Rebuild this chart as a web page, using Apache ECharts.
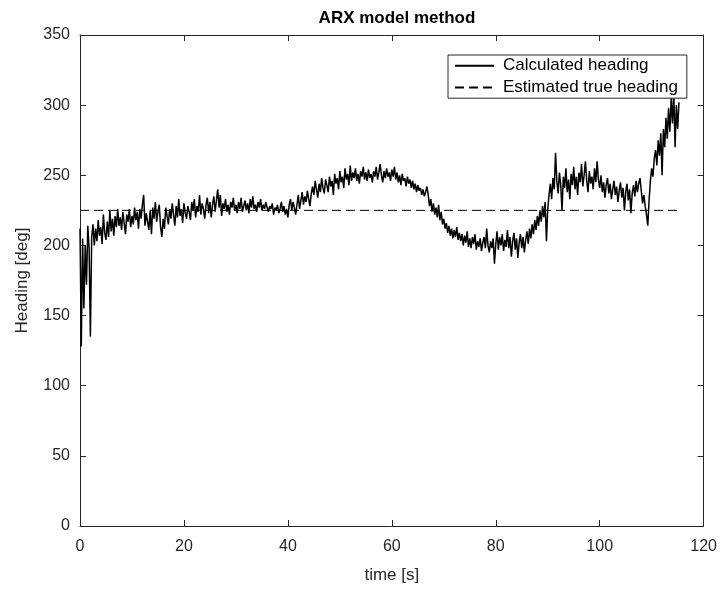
<!DOCTYPE html>
<html>
<head>
<meta charset="utf-8">
<script src="https://cdn.jsdelivr.net/npm/echarts@6/dist/echarts.min.js"></script>
<style>
  html, body { margin: 0; padding: 0; background: #fff; }
  #chart { width: 720px; height: 589px; }
</style>
</head>
<body>
<div id="chart"></div>
<script>
// sampling of the calculated heading (seconds between samples)
const sampleStep = 0.25;

// calculated heading [deg], 4 samples per second
const calculatedHeading = [
    212, 128, 205, 155, 200, 172, 214, 198, 135, 206, 215, 200, 212, 203, 218, 207, 213, 201, 222, 209,
    204, 217, 206, 225, 210, 219, 207, 221, 213, 226, 214, 220, 211, 224, 216, 208, 222, 217, 226, 213,
    221, 215, 227, 218, 224, 212, 226, 219, 229, 236, 214, 223, 217, 211, 225, 208, 227, 219, 231, 217,
    224, 229, 213, 206, 219, 212, 227, 221, 215, 226, 219, 230, 222, 214, 228, 220, 233, 221, 226, 216,
    230, 223, 219, 228, 224, 218, 231, 225, 233, 220, 228, 224, 236, 222, 230, 226, 219, 229, 234, 223,
    231, 220, 229, 235, 224, 232, 240, 227, 236, 221, 230, 226, 233, 224, 229, 222, 231, 227, 234, 225,
    229, 223, 231, 226, 234, 224, 228, 232, 225, 230, 223, 233, 227, 235, 226, 229, 224, 231, 227, 233,
    225, 229, 226, 231, 227, 224, 228, 226, 230, 222, 227, 225, 229, 223, 226, 231, 224, 228, 222, 226,
    220, 229, 233, 225, 231, 227, 222, 229, 236, 226, 232, 238, 229, 235, 231, 239, 233, 228, 237, 242,
    236, 246, 240, 234, 244, 238, 248, 241, 237, 247, 243, 238, 249, 242, 246, 236, 251, 244, 248, 240,
    253, 245, 249, 241, 255, 247, 251, 243, 257, 246, 252, 248, 255, 246, 251, 244, 253, 249, 256, 247,
    252, 246, 254, 248, 251, 245, 253, 249, 256, 247, 252, 258, 250, 245, 253, 248, 255, 249, 252, 246,
    254, 249, 256, 247, 252, 245, 250, 243, 251, 246, 248, 242, 249, 244, 247, 241, 246, 240, 244, 238,
    243, 239, 241, 236, 240, 235, 238, 242, 236, 228, 233, 224, 230, 222, 227, 220, 229, 218, 224, 215,
    219, 212, 216, 209, 214, 207, 212, 205, 211, 206, 213, 204, 209, 203, 208, 200, 207, 202, 210, 199,
    205, 198, 206, 201, 208, 197, 203, 199, 205, 196, 202, 206, 198, 212, 200, 195, 203, 198, 205, 187,
    201, 210, 197, 206, 200, 208, 196, 204, 199, 211, 198, 206, 192, 203, 209, 197, 205, 191, 202, 208,
    198, 206, 195, 204, 210, 201, 212, 205, 215, 208, 218, 211, 221, 214, 225, 217, 228, 220, 231, 203,
    226, 236, 244, 233, 248, 240, 266, 246, 237, 252, 243, 225, 249, 241, 255, 238, 247, 233, 251, 243,
    256, 240, 249, 236, 252, 245, 258, 242, 250, 260, 246, 238, 253, 244, 249, 240, 255, 245, 260, 247,
    241, 250, 238, 245, 234, 243, 248, 237, 244, 233, 240, 246, 236, 242, 231, 239, 245, 234, 241, 225,
    238, 244, 232, 240, 223, 237, 243, 235, 246, 238, 244, 248, 239, 230, 236, 228, 222, 214, 232, 246,
    255, 249, 262, 268, 257, 275, 264, 280, 250, 283, 270, 291, 276, 298, 281, 305, 287, 310, 270, 300,
    283, 302
];

// estimated true heading [deg], constant over the run
const trueHeading = 225;
const trueHeadingSpan = [0, 115.3];

const xTicks = { min: 0, max: 120, interval: 20 };
const yTicks = { min: 0, max: 350, interval: 50 };

const chartTitle = 'ARX model method';
const xName = 'time [s]';
const yName = 'Heading [deg]';
const seriesNames = ['Calculated heading', 'Estimated true heading'];

window.onload = init;

function init() {
    const chart = echarts.init(document.getElementById('chart'), null, { renderer: 'canvas' });

    const calcData = calculatedHeading.map((v, i) => [i * sampleStep, v]);
    const trueData = trueHeadingSpan.map(t => [t, trueHeading]);

    const axisCol = '#262626';
    const font = 'Liberation Sans';

    const baseX = {
        type: 'value',
        min: xTicks.min, max: xTicks.max, interval: xTicks.interval,
        axisLine: { show: true, onZero: false, lineStyle: { color: axisCol, width: 1 } },
        axisTick: { show: true, inside: true, length: 6, lineStyle: { color: axisCol } },
        splitLine: { show: false }
    };
    const baseY = {
        type: 'value',
        min: yTicks.min, max: yTicks.max, interval: yTicks.interval,
        axisLine: { show: true, onZero: false, lineStyle: { color: axisCol, width: 1 } },
        axisTick: { show: true, inside: true, length: 6, lineStyle: { color: axisCol } },
        splitLine: { show: false }
    };

    const options = {
        animation: false,
        backgroundColor: '#fff',
        textStyle: { fontFamily: font },
        title: {
            text: chartTitle,
            left: 392, top: 5,
            textAlign: 'center',
            textStyle: { fontFamily: font, fontSize: 17, fontWeight: 'bold', color: '#000' }
        },
        grid: { left: 80, right: 15, top: 35, bottom: 61, containLabel: false },
        legend: {
            orient: 'vertical',
            left: 448, top: 55,
            padding: [2, 9, 2, 6],
            itemGap: 4,
            itemWidth: 39,
            itemHeight: 22,
            backgroundColor: '#fff',
            borderColor: '#262626',
            borderWidth: 1,
            itemStyle: { opacity: 0 },
            textStyle: { fontFamily: font, fontSize: 17, color: '#000', padding: [0, 0, 0, 4] },
            data: seriesNames
        },
        xAxis: [
            Object.assign({}, baseX, {
                position: 'bottom',
                name: xName,
                nameLocation: 'middle',
                nameGap: 41,
                nameTextStyle: { fontFamily: font, fontSize: 17, color: axisCol },
                axisLabel: { fontFamily: font, fontSize: 16, color: axisCol, margin: 13 }
            }),
            Object.assign({}, baseX, { position: 'top', axisLabel: { show: false } })
        ],
        yAxis: [
            Object.assign({}, baseY, {
                position: 'left',
                name: yName,
                nameLocation: 'middle',
                nameGap: 49,
                nameTextStyle: { fontFamily: font, fontSize: 17, color: axisCol },
                axisLabel: { fontFamily: font, fontSize: 16, color: axisCol, margin: 10 }
            }),
            Object.assign({}, baseY, { position: 'right', axisLabel: { show: false } })
        ],
        series: [
            {
                name: seriesNames[0],
                type: 'line',
                data: calcData,
                symbol: 'none',
                lineStyle: { color: '#000', width: 1.5 },
                itemStyle: { color: '#000' }
            },
            {
                name: seriesNames[1],
                type: 'line',
                data: trueData,
                symbol: 'none',
                lineStyle: { color: '#000', width: 1, type: [9, 5] },
                itemStyle: { color: '#000' }
            }
        ]
    };

    chart.setOption(options);
}
</script>
</body>
</html>
